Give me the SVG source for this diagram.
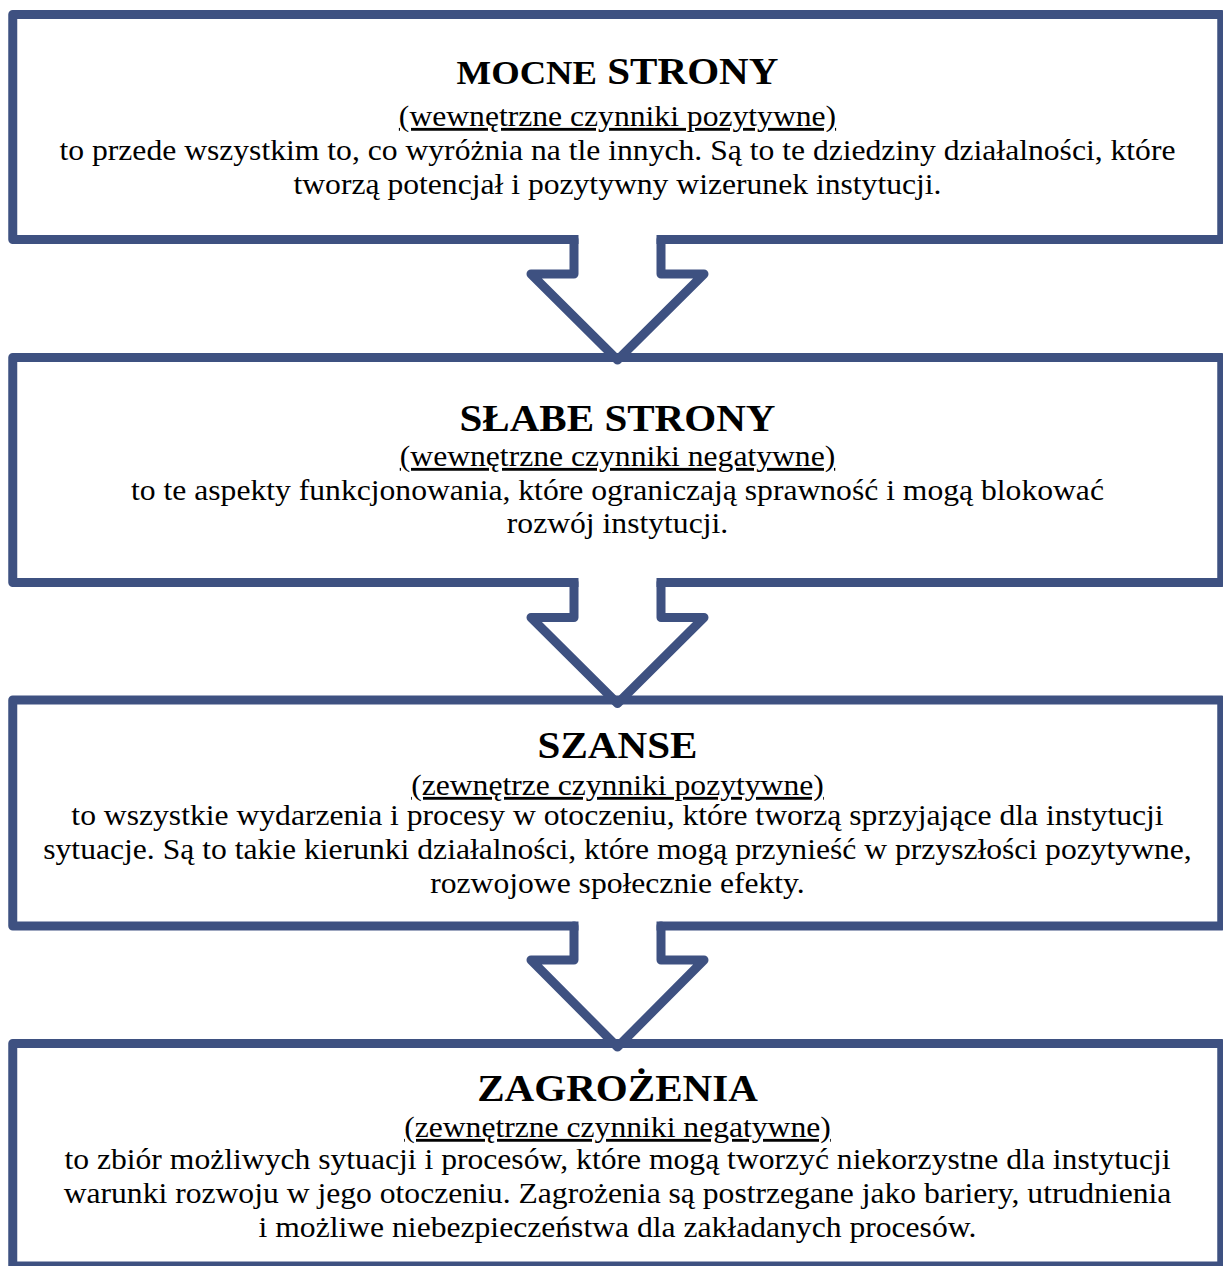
<svg xmlns="http://www.w3.org/2000/svg" width="1223" height="1266" viewBox="0 0 1223 1266">
<style>
.box{fill:#ffffff;stroke:#3e5181;stroke-width:9;stroke-linejoin:round}
.arr{fill:none;stroke:#3e5181;stroke-width:9;stroke-linejoin:round;stroke-linecap:round}
.gap{fill:#ffffff}
text{font-family:"Liberation Serif","Times New Roman",serif;fill:#000000;text-anchor:middle}
.t{font-size:37px;font-weight:bold}
.s{font-size:28.5px;text-decoration:underline;text-decoration-skip-ink:none}
.b{font-size:28.5px}
</style>
<rect x="0" y="0" width="1223" height="1266" fill="#ffffff"/>
<g id="node-mocne">
<rect class="box" x="12.75" y="14.5" width="1209" height="225"/>
<g transform="matrix(1.11 0 0 1 -67.925 0)">
<text class="t" x="617.5" y="84"><tspan font-size="33px">MOCNE</tspan> STRONY</text>
<text class="s" x="617.5" y="126">(wewnętrzne czynniki pozytywne)</text>
<text class="b" x="617.5" y="160">to przede wszystkim to, co wyróżnia na tle innych. Są to te dziedziny działalności, które</text>
<text class="b" x="617.5" y="194">tworzą potencjał i pozytywny wizerunek instytucji.</text>
</g>
</g>
<g id="node-slabe">
<rect class="box" x="12.75" y="357.5" width="1209" height="225"/>
<g transform="matrix(1.11 0 0 1 -67.925 0)">
<text class="t" x="617.5" y="431">SŁABE STRONY</text>
<text class="s" x="617.5" y="466">(wewnętrzne czynniki negatywne)</text>
<text class="b" x="617.5" y="500">to te aspekty funkcjonowania, które ograniczają sprawność i mogą blokować</text>
<text class="b" x="617.5" y="533">rozwój instytucji.</text>
</g>
</g>
<g id="node-szanse">
<rect class="box" x="12.75" y="700" width="1209" height="226"/>
<g transform="matrix(1.11 0 0 1 -67.925 0)">
<text class="t" x="617.5" y="758">SZANSE</text>
<text class="s" x="617.5" y="795">(zewnętrze czynniki pozytywne)</text>
<text class="b" x="617.5" y="825">to wszystkie wydarzenia i procesy w otoczeniu, które tworzą sprzyjające dla instytucji</text>
<text class="b" x="617.5" y="859">sytuacje. Są to takie kierunki działalności, które mogą przynieść w przyszłości pozytywne,</text>
<text class="b" x="617.5" y="893">rozwojowe społecznie efekty.</text>
</g>
</g>
<g id="node-zagrozenia">
<rect class="box" x="12.75" y="1043.5" width="1209" height="222.5"/>
<g transform="matrix(1.11 0 0 1 -67.925 0)">
<text class="t" x="617.5" y="1101">ZAGROŻENIA</text>
<text class="s" x="617.5" y="1137">(zewnętrzne czynniki negatywne)</text>
<text class="b" x="617.5" y="1169">to zbiór możliwych sytuacji i procesów, które mogą tworzyć niekorzystne dla instytucji</text>
<text class="b" x="617.5" y="1203">warunki rozwoju w jego otoczeniu. Zagrożenia są postrzegane jako bariery, utrudnienia</text>
<text class="b" x="617.5" y="1237">i możliwe niebezpieczeństwa dla zakładanych procesów.</text>
</g>
</g>
<g id="connectors">
<rect class="gap" x="578.5" y="233" width="78" height="12"/>
<polyline class="arr" points="574,239.5 574,274 531,274 617.5,360 704,274 661,274 661,239.5"/>
<rect class="gap" x="578.5" y="576" width="78" height="12"/>
<polyline class="arr" points="574,582.5 574,617.5 531,617.5 617.5,703.5 704,617.5 661,617.5 661,582.5"/>
<rect class="gap" x="578.5" y="919.5" width="78" height="12"/>
<polyline class="arr" points="574,926 574,960 531,960 617.5,1047 704,960 661,960 661,926"/>
</g>
</svg>
